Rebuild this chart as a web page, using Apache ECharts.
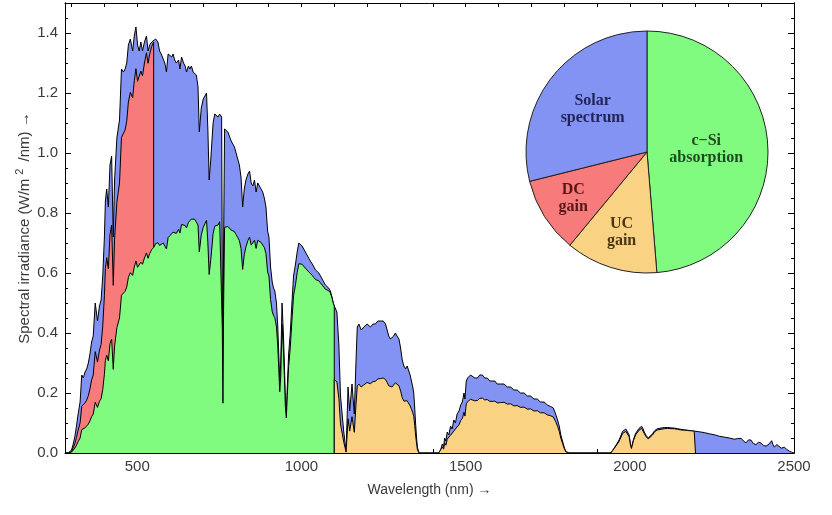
<!DOCTYPE html>
<html><head><meta charset="utf-8">
<script src="https://cdn.jsdelivr.net/npm/echarts@6/dist/echarts.min.js"></script>
<style>html,body{margin:0;padding:0;background:#fff}#c{width:832px;height:515px}</style>
</head><body><div id="c"></div>
<script>
// Wavelength grid (nm)
const wavelength = [
280,290,295,300,305,310,315,320,326,331,336,341,346,351,356,361,366,372,379,385,390,395,400,403,407,412,417,422,427,431,438,446,452,458,463,468,473,479,486,491,496,501,506,511,516,522,528,533,538,544,550,
556,563,568,573,579,584,589,594,600,605,609,614,619,626,630,635,641,646,650,656,660,665,670,675,680,685,689,695,701,706,711,715,719,724,731,736,741,746,751,757,759,761,763,766,771,776,781,786,791,796,801,806,811,816,821,826,831,837,842,847,852,857,862,867,872,877,882,887,892,897,901,906,911,915,919,924,928,931,934,937,941,945,948,951,954,957,961,966,971,976,982,987,992,997,1002,1007,1012,1017,1022,1027,1033,1038,1043,1048,1053,1058,1063,1068,1073,1078,1083,1088,1093,1097,1100,
1104,1108,1114,1119,1124,1129,1136,1142,1147,1154,1161,1166,1170,1175,1182,1190,1200,1210,1218,1225,1233,1241,1249,1256,1261,1266,1271,1276,1281,1286,1291,1297,1302,1307,1312,1317,1322,1327,1331,1335,1339,1342,1345,1347,1350,1353,1358,1418,1424,1429,1433,1436,1440,1444,1449,1454,1459,1464,1469,1474,1480,1485,1490,1495,1498,1502,1506,1510,1515,1520,1528,1536,1543,1551,1558,1566,1574,1581,1589,1596,1606,1617,1627,1637,1647,1657,1667,1678,1688,1698,1708,1718,1728,1739,1749,1759,1767,1774,1780,1785,1790,1795,1800,1805,1815,1942,1952,1960,1968,1978,1988,1994,1998,2002,2005,2011,2018,2028,2036,2040,2044,2050,2056,2062,2069,2076,2084,2095,2105,2115,2125,2135,2145,2155,2166,2176,2186,2196,2200,
2210,2227,2242,2257,2272,2288,2303,2318,2328,2339,2346,2354,2362,2369,2376,2384,2392,2400,2407,2415,2424,2432,2436,2440,2448,2454,2461,2466,2471,2478,2486,2494,2500];

// Solar spectrum (W/m^2/nm)
const totalIrradiance = [
0,0,0.003,0.01,0.03,0.055,0.09,0.13,0.17,0.26,0.25,0.27,0.28,0.30,0.33,0.37,0.39,0.50,0.44,0.49,0.51,0.59,0.72,0.84,0.88,0.82,0.96,0.99,0.72,0.91,1.05,1.11,1.28,1.27,1.28,1.30,1.36,1.38,1.34,1.39,1.42,1.36,1.34,1.37,1.34,1.37,1.39,1.34,1.36,1.37,1.37,
1.38,1.37,1.34,1.33,1.33,1.30,1.27,1.33,1.33,1.32,1.33,1.31,1.30,1.31,1.28,1.32,1.30,1.29,1.27,1.29,1.28,1.29,1.27,1.27,1.26,1.22,1.07,1.15,1.18,1.19,1.20,1.08,0.91,0.98,1.10,1.13,1.13,1.12,1.13,1.12,0.60,0.24,0.70,1.08,1.08,1.07,1.07,1.04,1.03,1.02,1.00,0.98,0.96,0.92,0.82,0.88,0.91,0.93,0.94,0.90,0.89,0.91,0.87,0.90,0.89,0.88,0.87,0.85,0.82,0.74,0.72,0.62,0.57,0.55,0.54,0.50,0.42,0.33,0.24,0.30,0.50,0.40,0.30,0.18,0.135,0.22,0.33,0.40,0.50,0.59,0.63,0.67,0.70,0.70,0.69,0.68,0.67,0.67,0.65,0.64,0.63,0.62,0.61,0.61,0.60,0.59,0.58,0.57,0.56,0.56,0.55,0.54,0.52,0.50,0.49,
0.48,0.47,0.36,0.19,0.13,0.07,0.005,0.22,0.14,0.23,0.13,0.30,0.42,0.43,0.41,0.42,0.43,0.42,0.43,0.43,0.44,0.44,0.44,0.43,0.41,0.39,0.38,0.38,0.39,0.40,0.39,0.38,0.35,0.31,0.29,0.28,0.29,0.29,0.26,0.24,0.22,0.20,0.15,0.11,0.06,0.02,0,0,0.01,0.03,0.02,0.05,0.04,0.07,0.06,0.09,0.08,0.11,0.10,0.13,0.14,0.16,0.17,0.20,0.18,0.24,0.25,0.25,0.26,0.26,0.25,0.25,0.26,0.26,0.25,0.25,0.24,0.24,0.24,0.23,0.23,0.23,0.22,0.22,0.21,0.21,0.20,0.20,0.19,0.19,0.18,0.18,0.17,0.17,0.16,0.155,0.15,0.13,0.11,0.09,0.06,0.04,0.02,0.005,0,0,0.016,0.03,0.045,0.072,0.08,0.075,0.06,0.03,0.016,0.045,0.066,0.082,0.089,0.082,0.07,0.058,0.05,0.056,0.064,0.075,0.081,0.083,0.085,0.085,0.084,0.083,0.081,0.079,0.077,0.076,0.074,0.073,0.073,
0.071,0.068,0.064,0.061,0.056,0.053,0.05,0.046,0.048,0.049,0.04,0.034,0.044,0.043,0.032,0.028,0.036,0.033,0.025,0.023,0.03,0.041,0.028,0.02,0.028,0.022,0.016,0.022,0.019,0.012,0.006,0.002,0];

// c-Si absorbed part (from 280 nm to 1100 nm, same grid)
const siAbsorbed = [
0,0,0.001,0.003,0.008,0.016,0.026,0.038,0.050,0.078,0.076,0.084,0.088,0.096,0.107,0.121,0.130,0.169,0.152,0.172,0.181,0.212,0.262,0.308,0.326,0.307,0.364,0.380,0.279,0.357,0.418,0.450,0.526,0.529,0.539,0.553,0.585,0.601,0.592,0.620,0.640,0.619,0.616,0.636,0.629,0.650,0.667,0.649,0.665,0.678,0.685,
0.698,0.701,0.692,0.693,0.700,0.690,0.680,0.718,0.725,0.726,0.736,0.731,0.732,0.746,0.733,0.762,0.758,0.758,0.750,0.769,0.768,0.780,0.774,0.779,0.779,0.760,0.670,0.727,0.752,0.764,0.776,0.702,0.595,0.645,0.731,0.756,0.761,0.760,0.771,0.771,0.414,0.166,0.486,0.752,0.757,0.755,0.760,0.743,0.741,0.738,0.728,0.718,0.708,0.682,0.612,0.661,0.687,0.708,0.720,0.693,0.689,0.709,0.682,0.709,0.706,0.702,0.698,0.685,0.665,0.603,0.590,0.511,0.472,0.458,0.451,0.420,0.354,0.279,0.204,0.256,0.428,0.344,0.259,0.156,0.117,0.191,0.288,0.351,0.441,0.524,0.562,0.601,0.631,0.634,0.629,0.623,0.616,0.619,0.604,0.598,0.592,0.585,0.578,0.581,0.574,0.567,0.561,0.553,0.546,0.549,0.541,0.534,0.517,0.499,0.49];

// Down-conversion gain top (from 280 nm to 550 nm)
const dcGain = [
0,0,0.002,0.005,0.017,0.031,0.052,0.076,0.101,0.156,0.153,0.167,0.176,0.191,0.214,0.243,0.260,0.338,0.303,0.343,0.362,0.424,0.524,0.615,0.651,0.614,0.728,0.760,0.559,0.713,0.836,0.900,1.052,1.058,1.077,1.106,1.170,1.202,1.184,1.241,1.281,1.239,1.233,1.273,1.257,1.300,1.334,1.299,1.330,1.355,1.370];

// Up-conversion gain top (from 1100 nm to 2200 nm)
const ucGain = [
0.245,0.241,0.237,0.182,0.097,0.066,0.036,0.003,0.114,0.073,0.121,0.069,0.159,0.223,0.230,0.220,0.227,0.235,0.231,0.238,0.239,0.247,0.248,0.250,0.245,0.235,0.224,0.220,0.220,0.227,0.234,0.229,0.224,0.207,0.184,0.173,0.168,0.174,0.175,0.157,0.146,0.134,0.122,0.092,0.067,0.037,0.012,0,0,0.006,0.020,0.013,0.033,0.026,0.046,0.040,0.059,0.053,0.073,0.067,0.087,0.094,0.108,0.115,0.136,0.123,0.164,0.171,0.172,0.179,0.180,0.174,0.175,0.182,0.183,0.177,0.178,0.172,0.172,0.173,0.167,0.168,0.169,0.163,0.164,0.157,0.158,0.152,0.153,0.146,0.147,0.140,0.141,0.134,0.134,0.127,0.124,0.120,0.105,0.089,0.073,0.049,0.033,0.016,0.004,0,0,0.014,0.027,0.040,0.065,0.072,0.068,0.054,0.027,0.015,0.041,0.061,0.076,0.082,0.076,0.065,0.054,0.047,0.052,0.060,0.071,0.077,0.079,0.081,0.082,0.081,0.081,0.079,0.077,0.076,0.075,0.074,0.073,0.073];
const ucStartNm = 1100;

// Axis ticks
const xTickLabels = [500,1000,1500,2000,2500];
const xTicks = [300,400,500,600,700,800,900,1000,1100,1200,1300,1400,1500,1600,1700,1800,1900,2000,2100,2200,2300,2400,2500];
const yTickLabels = [0,0.2,0.4,0.6,0.8,1.0,1.2,1.4];
const yMinorTicks = [0.05,0.1,0.15,0.25,0.3,0.35,0.45,0.5,0.55,0.65,0.7,0.75,0.85,0.9,0.95,1.05,1.1,1.15,1.25,1.3,1.35,1.45];

// Pie (energy shares, %)
const pieNames = ['c\u2212Si\nabsorption','UC\ngain','DC\ngain','Solar\nspectrum'];
const pieShares = [48.7,12.3,10.1,28.9];

const COL = {blue:'#8393f4', red:'#f77b7b', green:'#80fb80', orange:'#fad283'};
const pieColors = [COL.green, COL.orange, COL.red, COL.blue];
const pieTextColors = ['#1f4a1f','#4a3510','#5a1616','#22245a'];
const pieLabelRadius = [0.49,0.70,0.72,0.57];
const PIE_C = [647,152], PIE_R = 121;

function pairs(vals, offset){ return vals.map((v,i)=>[wavelength[i+offset], v]); }
const blueData = pairs(totalIrradiance,0);
const redData = pairs(dcGain,0); redData.push([wavelength[dcGain.length-1],0]);
const greenData = pairs(siAbsorbed,0); greenData.push([wavelength[siAbsorbed.length-1],0]);
const ucStart = wavelength.indexOf(ucStartNm);
const orangeData = [[wavelength[ucStart],0]].concat(pairs(ucGain,ucStart));
orangeData.push([wavelength[ucStart+ucGain.length-1],0]);

function area(name, data, color, z){
  return {type:'line', name, data, xAxisIndex:0, yAxisIndex:0, symbol:'none', showSymbol:false,
    lineStyle:{color:'#000', width:1}, areaStyle:{color, opacity:1}, itemStyle:{color},
    animation:false, silent:true, z:z};
}

const pieTotal = pieShares.reduce((a,b)=>a+b,0);
const pieMid = []; {let c=0; pieShares.forEach(v=>{pieMid.push((c+v/2)/pieTotal*2*Math.PI); c+=v;});}

const FONT = 'Liberation Sans, Arial, sans-serif';
const labelFont = {fontFamily:FONT, fontSize:15, color:'#3a3a3a'};
const blackLine = {lineStyle:{color:'#000', width:1}};
function xAx(pos, ticks, len, labels){
  return {type:'value', min:280, max:2500, position:pos, gridIndex:0,
    axisLine:{show:true, onZero:false, ...blackLine},
    axisTick:{show:true, inside:true, length:len, customValues:ticks, ...blackLine},
    axisLabel: labels ? {show:true, customValues:labels, margin:6, formatter:v=>String(v), ...labelFont} : {show:false},
    splitLine:{show:false}};
}
function yAx(pos, ticks, len, labels){
  return {type:'value', min:0, max:1.5, position:pos, gridIndex:0,
    axisLine:{show:true, onZero:false, ...blackLine},
    axisTick:{show:true, inside:true, length:len, customValues:ticks, ...blackLine},
    axisLabel: labels ? {show:true, customValues:labels, margin:7, formatter:v=>v.toFixed(1), ...labelFont} : {show:false},
    splitLine:{show:false}};
}
const xMain = xAx('bottom', xTicks, 4, xTickLabels);
xMain.name = 'Wavelength (nm) \u2192'; xMain.nameLocation='middle'; xMain.nameGap=30; xMain.nameMoveOverlap=false;
xMain.nameTextStyle = {fontFamily:FONT, fontSize:14, color:'#3a3a3a'};
const yMain = yAx('left', yTickLabels, 6, yTickLabels);
yMain.name = 'Spectral irradiance (W/m{sup|2} /nm) \u2192'; yMain.nameLocation='middle'; yMain.nameGap=29; yMain.nameMoveOverlap=false;
yMain.nameTextStyle = {fontFamily:FONT, fontSize:15, color:'#3a3a3a', lineHeight:22,
  rich:{sup:{fontFamily:FONT, fontSize:11, color:'#3a3a3a', verticalAlign:'top', lineHeight:14, padding:[0,3,0,4]}}};

const chart = echarts.init(document.getElementById('c'), null, {renderer:'canvas'});
chart.setOption({
  backgroundColor:'#fff',
  animation:false,
  grid:{left:65, right:38, top:3, bottom:62, containLabel:false, outerBoundsMode:'none'},
  xAxis:[xMain, xAx('top', xTicks, 4, null)],
  yAxis:[yMain, yAx('left', yMinorTicks, 3, null), yAx('right', yTickLabels, 6, null), yAx('right', yMinorTicks, 3, null)],
  series:[
    area('Solar spectrum', blueData, COL.blue, 2),
    area('DC gain', redData, COL.red, 3),
    area('c-Si absorption', greenData, COL.green, 4),
    area('UC gain', orangeData, COL.orange, 5),
    {type:'pie', center:PIE_C, radius:PIE_R, startAngle:90, clockwise:true, animation:false, silent:true, z:10,
     itemStyle:{borderColor:'#222', borderWidth:1},
     label:{show:true, position:'inside', formatter:'{b}', fontFamily:'Liberation Serif, Times New Roman, serif', fontWeight:'bold', fontSize:16, lineHeight:17, align:'center'},
     labelLine:{show:false},
     labelLayout:function(p){
       const a = pieMid[p.dataIndex], r = PIE_R*pieLabelRadius[p.dataIndex];
       return {x: PIE_C[0] + r*Math.sin(a), y: PIE_C[1] - r*Math.cos(a), align:'center', verticalAlign:'middle'};
     },
     data: pieNames.map((n,i)=>({name:n, value:pieShares[i], itemStyle:{color:pieColors[i]}, label:{color:pieTextColors[i]}}))
    }
  ]
});
</script></body></html>
